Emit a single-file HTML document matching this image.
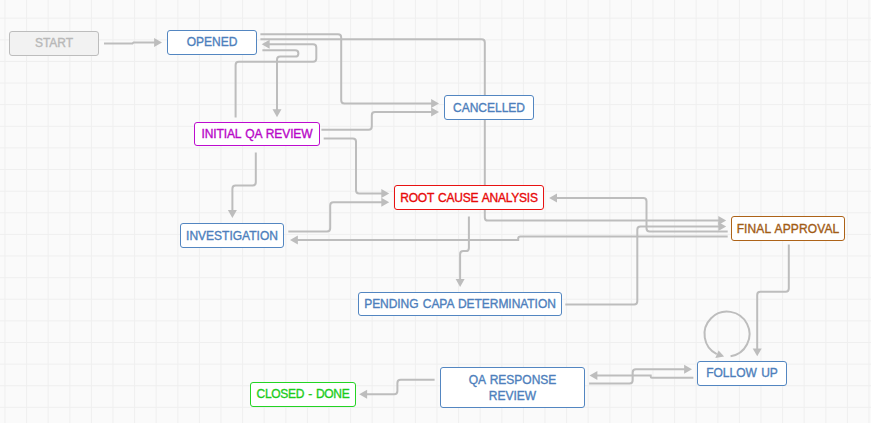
<!DOCTYPE html>
<html><head><meta charset="utf-8"><style>
html,body{margin:0;padding:0;width:871px;height:423px;overflow:hidden;background:#fafafa}
svg{position:absolute;left:0;top:0}
.n{position:absolute;box-sizing:border-box;border:1px solid;border-radius:3px;display:flex;align-items:center;justify-content:center;text-align:center;font-family:"Liberation Sans",sans-serif;font-size:12px;line-height:16px;white-space:nowrap;word-spacing:1px;-webkit-text-stroke:0.35px currentColor}
</style></head><body>
<svg width="871" height="423" viewBox="0 0 871 423">
<g stroke="#efefef" stroke-width="1"><line x1="5.00" y1="0" x2="5.00" y2="423"/><line x1="26.60" y1="0" x2="26.60" y2="423"/><line x1="48.20" y1="0" x2="48.20" y2="423"/><line x1="69.80" y1="0" x2="69.80" y2="423"/><line x1="91.40" y1="0" x2="91.40" y2="423"/><line x1="113.00" y1="0" x2="113.00" y2="423"/><line x1="134.60" y1="0" x2="134.60" y2="423"/><line x1="156.20" y1="0" x2="156.20" y2="423"/><line x1="177.80" y1="0" x2="177.80" y2="423"/><line x1="199.40" y1="0" x2="199.40" y2="423"/><line x1="221.00" y1="0" x2="221.00" y2="423"/><line x1="242.60" y1="0" x2="242.60" y2="423"/><line x1="264.20" y1="0" x2="264.20" y2="423"/><line x1="285.80" y1="0" x2="285.80" y2="423"/><line x1="307.40" y1="0" x2="307.40" y2="423"/><line x1="329.00" y1="0" x2="329.00" y2="423"/><line x1="350.60" y1="0" x2="350.60" y2="423"/><line x1="372.20" y1="0" x2="372.20" y2="423"/><line x1="393.80" y1="0" x2="393.80" y2="423"/><line x1="415.40" y1="0" x2="415.40" y2="423"/><line x1="437.00" y1="0" x2="437.00" y2="423"/><line x1="458.60" y1="0" x2="458.60" y2="423"/><line x1="480.20" y1="0" x2="480.20" y2="423"/><line x1="501.80" y1="0" x2="501.80" y2="423"/><line x1="523.40" y1="0" x2="523.40" y2="423"/><line x1="545.00" y1="0" x2="545.00" y2="423"/><line x1="566.60" y1="0" x2="566.60" y2="423"/><line x1="588.20" y1="0" x2="588.20" y2="423"/><line x1="609.80" y1="0" x2="609.80" y2="423"/><line x1="631.40" y1="0" x2="631.40" y2="423"/><line x1="653.00" y1="0" x2="653.00" y2="423"/><line x1="674.60" y1="0" x2="674.60" y2="423"/><line x1="696.20" y1="0" x2="696.20" y2="423"/><line x1="717.80" y1="0" x2="717.80" y2="423"/><line x1="739.40" y1="0" x2="739.40" y2="423"/><line x1="761.00" y1="0" x2="761.00" y2="423"/><line x1="782.60" y1="0" x2="782.60" y2="423"/><line x1="804.20" y1="0" x2="804.20" y2="423"/><line x1="825.80" y1="0" x2="825.80" y2="423"/><line x1="847.40" y1="0" x2="847.40" y2="423"/><line x1="869.00" y1="0" x2="869.00" y2="423"/><line x1="0" y1="18.20" x2="871" y2="18.20"/><line x1="0" y1="39.82" x2="871" y2="39.82"/><line x1="0" y1="61.44" x2="871" y2="61.44"/><line x1="0" y1="83.06" x2="871" y2="83.06"/><line x1="0" y1="104.68" x2="871" y2="104.68"/><line x1="0" y1="126.30" x2="871" y2="126.30"/><line x1="0" y1="147.92" x2="871" y2="147.92"/><line x1="0" y1="169.54" x2="871" y2="169.54"/><line x1="0" y1="191.16" x2="871" y2="191.16"/><line x1="0" y1="212.78" x2="871" y2="212.78"/><line x1="0" y1="234.40" x2="871" y2="234.40"/><line x1="0" y1="256.02" x2="871" y2="256.02"/><line x1="0" y1="277.64" x2="871" y2="277.64"/><line x1="0" y1="299.26" x2="871" y2="299.26"/><line x1="0" y1="320.88" x2="871" y2="320.88"/><line x1="0" y1="342.50" x2="871" y2="342.50"/><line x1="0" y1="364.12" x2="871" y2="364.12"/><line x1="0" y1="385.74" x2="871" y2="385.74"/><line x1="0" y1="407.36" x2="871" y2="407.36"/></g>
<g fill="none" stroke="#bdbdbd" stroke-width="2"><path d="M104 43.4 H132.5 L133.5 42.5 H156"/><path d="M260.4 34.2 H338 Q341.2 34.2 341.2 37.4 V100.3 Q341.2 103.5 344.4 103.5 H433"/><path d="M260.4 39.2 H481.6 Q484.8 39.2 484.8 42.4 V217.4 Q484.8 220.6 488 220.6 H720"/><path d="M235.6 117.4 V65 Q235.6 61.8 238.8 61.8 H313.1 Q316.3 61.8 316.3 58.6 V47.5 Q316.3 44.3 313.1 44.3 H269"/><path d="M262.4 50.2 H295.2 Q298.4 50.2 298.4 53.4 Q298.4 56.6 295.2 56.6 H280.2 Q277 56.6 277 59.8 V110"/><path d="M321.4 129.8 H368.6 Q371.8 129.8 371.8 126.6 V115.3 Q371.8 112.1 375 112.1 H433"/><path d="M323.7 138.4 H352.8 Q356 138.4 356 141.6 V190.3 Q356 193.5 359.2 193.5 H382"/><path d="M255.8 152.4 V182.3 Q255.8 185.5 252.6 185.5 H235.6 Q232.4 185.5 232.4 188.7 V211"/><path d="M288.3 231.4 H327 Q330.2 231.4 330.2 228.2 V205.5 Q330.2 202.3 333.4 202.3 H382"/><path d="M727.7 236.4 H520.5 Q518.2 236.4 518.2 238.4 V239.9 H297"/><path d="M727.7 231.4 H649.7 Q646.5 231.4 646.5 228.2 V201.3 Q646.5 198.1 643.3 198.1 H556"/><path d="M565.3 304.5 H634.1 Q637.3 304.5 637.3 301.3 V229.7 Q637.3 226.5 640.5 226.5 H720"/><path d="M468.9 216.4 V247.9 Q468.9 251.1 465.7 251.1 H463.3 Q460.1 251.1 460.1 254.3 V280"/><path d="M788.8 244.4 V288.5 Q788.8 291.7 785.6 291.7 H760.4 Q757.2 291.7 757.2 294.9 V349"/><path d="M589.1 383.5 H629.5 Q632.7 383.5 632.7 380.3 V372.4 Q632.7 369.2 635.9 369.2 H685"/><path d="M693.4 377.7 H651.9 Q650.7 377.7 650.7 376.5 V375.4 H597"/><path d="M434.6 379.8 H400.6 Q397.4 379.8 397.4 383 V391.1 Q397.4 394.3 394.2 394.3 H366"/><path d="M730.56 356.32 A22.5 22.5 0 1 0 716.75 354.13"/></g>
<g fill="#bdbdbd"><polygon points="162.0,42.5 154.1,38.0 154.1,47.0"/><polygon points="439.0,103.6 431.1,99.1 431.1,108.1"/><polygon points="726.2,220.6 718.3,216.1 718.3,225.1"/><polygon points="261.7,44.3 269.6,39.8 269.6,48.8"/><polygon points="277.0,117.2 272.5,109.3 281.5,109.3"/><polygon points="439.0,112.1 431.1,107.6 431.1,116.6"/><polygon points="389.2,193.5 381.3,189.0 381.3,198.0"/><polygon points="232.4,218.0 227.9,210.1 236.9,210.1"/><polygon points="389.2,202.3 381.3,197.8 381.3,206.8"/><polygon points="290.0,240.0 297.9,235.5 297.9,244.5"/><polygon points="549.1,198.1 557.0,193.6 557.0,202.6"/><polygon points="726.2,226.5 718.3,222.0 718.3,231.0"/><polygon points="460.1,287.0 455.6,279.1 464.6,279.1"/><polygon points="757.2,356.3 752.7,348.4 761.7,348.4"/><polygon points="692.0,369.2 684.1,364.7 684.1,373.7"/><polygon points="589.5,375.4 597.4,370.9 597.4,379.9"/><polygon points="359.2,394.3 367.1,389.8 367.1,398.8"/><polygon points="724.1,356.6 718.6,350.4 715.3,358.1"/></g>
</svg>
<div class="n" style="left:9px;top:31px;width:90px;height:25px;border-color:#bdbdbd;color:#b8b8b8;background:#f2f2f2"><span style="position:relative;top:-1px;letter-spacing:0px">START</span></div>
<div class="n" style="left:167px;top:30px;width:90px;height:25px;border-color:#5386c1;color:#4e7fbc;background:#fff"><span style="position:relative;top:-1px;letter-spacing:0px">OPENED</span></div>
<div class="n" style="left:444px;top:95px;width:90px;height:25px;border-color:#5386c1;color:#4e7fbc;background:#fff"><span style="position:relative;top:0px;letter-spacing:0px">CANCELLED</span></div>
<div class="n" style="left:194px;top:122px;width:126px;height:24px;border-color:#bd0ccf;color:#b808c8;background:#fff"><span style="position:relative;top:0px;letter-spacing:-0.12px">INITIAL QA REVIEW</span></div>
<div class="n" style="left:394px;top:185px;width:150px;height:25px;border-color:#e81212;color:#e80a0a;background:#fff"><span style="position:relative;top:0px;letter-spacing:-0.22px">ROOT CAUSE ANALYSIS</span></div>
<div class="n" style="left:731px;top:216px;width:114px;height:25px;border-color:#ad6318;color:#a25c16;background:#fff"><span style="position:relative;top:0px;letter-spacing:0.12px">FINAL APPROVAL</span></div>
<div class="n" style="left:180px;top:223px;width:104px;height:25px;border-color:#5386c1;color:#4e7fbc;background:#fff"><span style="position:relative;top:0px;letter-spacing:0px">INVESTIGATION</span></div>
<div class="n" style="left:358px;top:292px;width:204px;height:24px;border-color:#5386c1;color:#4e7fbc;background:#fff"><span style="position:relative;top:0px;letter-spacing:-0.05px">PENDING CAPA DETERMINATION</span></div>
<div class="n" style="left:697px;top:361px;width:90px;height:25px;border-color:#5386c1;color:#4e7fbc;background:#fff"><span style="position:relative;top:-1px;letter-spacing:0px">FOLLOW UP</span></div>
<div class="n" style="left:440px;top:367px;width:145px;height:41px;border-color:#5386c1;color:#4e7fbc;background:#fff"><span style="position:relative;top:0px;letter-spacing:0px">QA RESPONSE<br>REVIEW</span></div>
<div class="n" style="left:250px;top:382px;width:106px;height:25px;border-color:#24d424;color:#1ccc1c;background:#fff"><span style="position:relative;top:-1px;letter-spacing:-0.3px">CLOSED - DONE</span></div>
</body></html>
